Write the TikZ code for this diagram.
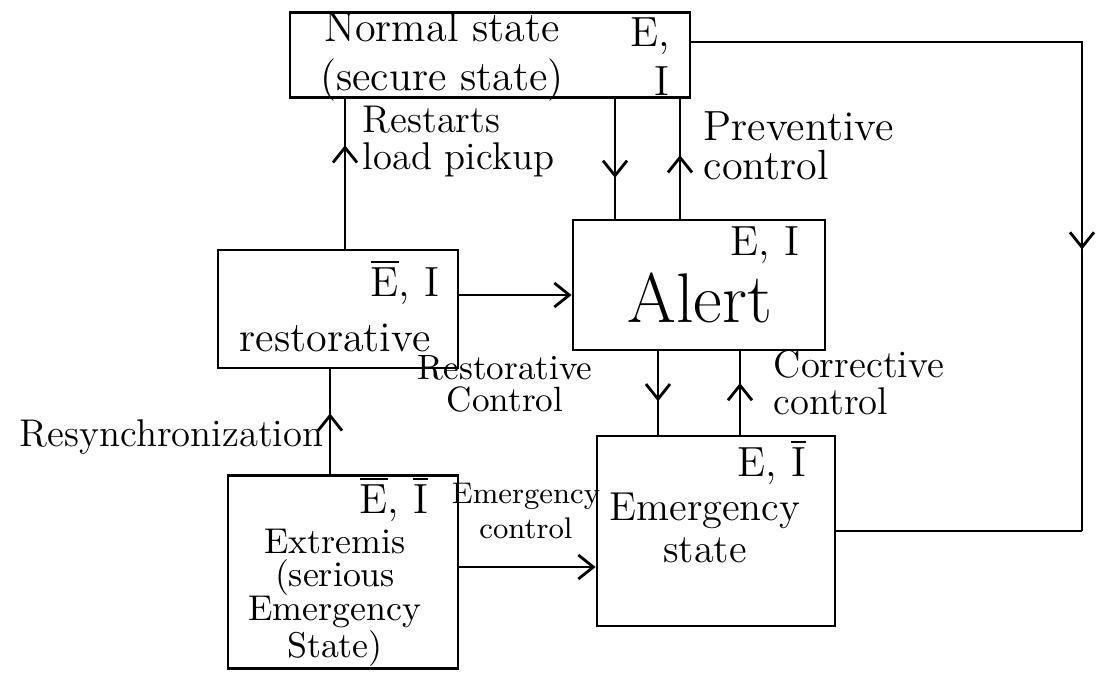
\documentclass[tikz,border=0pt]{standalone}
\usepackage{amsmath}
\usetikzlibrary{arrows.meta,decorations.markings}

\tikzset{
  state/.style={draw, thick, rectangle, inner sep=0pt},
  flow/.style={thick, postaction={decorate},
    decoration={markings, mark=at position #1 with {\arrow{Straight Barb[length=1.5mm,width=2.4mm]}}}},
  tip/.style={thick, -{Straight Barb[length=1.5mm,width=2.4mm]}},
  txt/.style={font=\fontsize{12}{14}\selectfont, align=center, inner sep=0pt},
}

\begin{document}
\begin{tikzpicture}[x=0.1mm, y=-0.1mm]
	\useasboundingbox (0,0) rectangle (1098,678);

	% the five states
	\node[state, minimum width=40mm, minimum height=8.5mm] (normal) at (490,55) {};
	\node[state, minimum width=24mm, minimum height=11.8mm] (restor) at (338,309) {};
	\node[state, minimum width=25.2mm, minimum height=13mm] (alert) at (699,285) {};
	\node[state, minimum width=23mm, minimum height=19.3mm] (extrem) at (343,572) {};
	\node[state, minimum width=23.8mm, minimum height=19mm] (emerg) at (716,531) {};

	\node[txt] (normaltxt) at (442,57) {Normal state\\(secure state)};
	\node[txt, align=right] (normalei) at (650,57) {E,\\I};
	\node[txt] (restorei) at (405,282) {$\overline{\text{E}}$, I};
	\node[txt] (restortxt) at (335,338) {restorative};
	\node[txt] (alertei) at (765,245) {E, I};
	\node[txt, font=\fontsize{20}{22}\selectfont] (alerttxt) at (700,298) {Alert};
	\node[txt] (extremei) at (394,499) {$\overline{\text{E}}$, $\overline{\text{I}}$};
	\node[txt, font=\fontsize{10.2}{9.5}\selectfont] (extremtxt) at (335,598) {Extremis\\(serious\\Emergency\\State)};
	\node[txt] (emergei) at (772,462) {E, $\overline{\text{I}}$};
	\node[txt, font=\fontsize{11.5}{12}\selectfont] (emergtxt) at (705,528) {Emergency\\state};

	% labels on the transitions
	\node[txt, align=left, anchor=west, font=\fontsize{11}{10.5}\selectfont] (restarts) at (362,142) {Restarts\\load pickup};
	\node[txt, align=left, anchor=west, font=\fontsize{12}{11}\selectfont] (prevent) at (703,146) {Preventive\\control};
	\node[txt, font=\fontsize{10}{9}\selectfont] (restctrl) at (505,384) {Restorative\\Control};
	\node[txt, align=left, anchor=west, font=\fontsize{11}{10.5}\selectfont] (corrctrl) at (773,383) {Corrective\\control};
	\node[txt, anchor=east, font=\fontsize{11}{11}\selectfont] (resync) at (324,437) {Resynchronization};
	\node[txt, font=\fontsize{8.5}{10}\selectfont] (emergctrl) at (526,511) {Emergency\\control};

	% restorative -> normal
	\draw[flow=0.69] ([xshift=0.7mm]restor.north) -- ([xshift=0.7mm]restor.north |- normal.south);
	% normal <-> alert
	\draw[flow=0.66] ([xshift=-8.4mm]alert.north |- normal.south) -- ([xshift=-8.4mm]alert.north);
	\draw[flow=0.53] ([xshift=-1.9mm]alert.north) -- ([xshift=-1.9mm]alert.north |- normal.south);
	% restorative -> alert
	\draw[tip] ([yshift=1.4mm]restor.east) -- ([yshift=1.4mm]restor.east -| alert.west);
	% alert <-> emergency
	\draw[flow=0.6] ([xshift=-4.1mm]alert.south) -- ([xshift=-4.1mm]alert.south |- emerg.north);
	\draw[flow=0.62] ([xshift=4.1mm]alert.south |- emerg.north) -- ([xshift=4.1mm]alert.south);
	% extremis -> restorative, extremis -> emergency
	\draw[flow=0.58] ([xshift=-1.3mm]extrem.north) -- ([xshift=-1.3mm]extrem.north |- restor.south);
	\draw[tip] ([yshift=0.5mm]extrem.east) -- ([yshift=0.5mm]extrem.east -| emerg.west);

	% normal -> emergency round the right side
	\coordinate (join) at (1082,531);
	\draw[flow=0.68] ([yshift=1.3mm]normal.east) -| (join);
	\draw[thick] (emerg.east) -- (join);
\end{tikzpicture}
\end{document}
